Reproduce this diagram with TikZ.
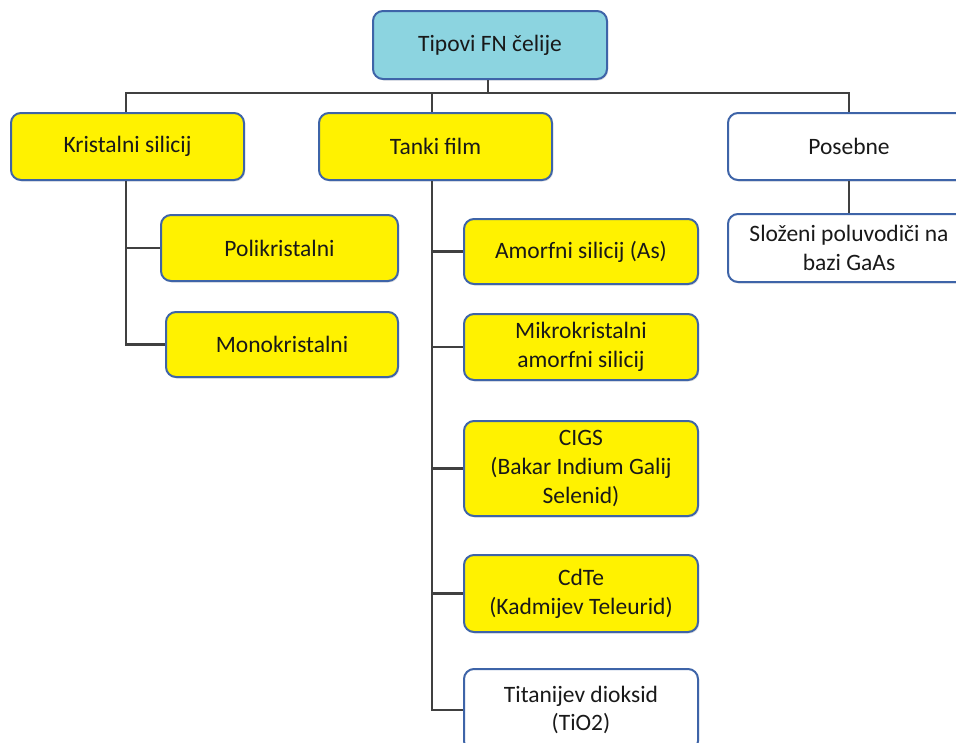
\documentclass[tikz,border=0pt]{standalone}
\usepackage{fontspec}
\setmainfont{Carlito}
\usetikzlibrary{shadows}
\definecolor{boxblue}{RGB}{62,100,168}
\definecolor{boxyellow}{RGB}{255,242,0}
\definecolor{boxcyan}{RGB}{140,212,224}
\definecolor{linegray}{RGB}{64,64,64}
\definecolor{txt}{RGB}{25,25,25}
\tikzset{
  box/.style={draw=boxblue, line width=2pt, rounded corners=10pt, align=center,
    inner sep=0pt, text=txt,
    font=\fontsize{23.5}{28.7}\selectfont,
    drop shadow={shadow xshift=1.2pt, shadow yshift=-1.5pt, opacity=0.22}},
  ybox/.style={box, fill=boxyellow},
  wbox/.style={box, fill=white},
  cbox/.style={box, fill=boxcyan},
  conn/.style={draw=linegray, line width=2.2pt}
}
\begin{document}
\begin{tikzpicture}[x=1pt, y=-1pt]
\useasboundingbox (0,0) rectangle (956,742);
\clip (0,0) rectangle (956,742);
\fill[white] (0,0) rectangle (956,742);
% nodes
\node[cbox, minimum width=234pt, minimum height=68pt] (top) at (490,45) {Tipovi FN čelije};
\node[ybox, minimum width=233pt, minimum height=67pt] (kri) at (127.5,146.5) {Kristalni silicij};
\node[ybox, minimum width=233pt, minimum height=67pt] (tan) at (435.5,146.5) {Tanki film};
\node[wbox, minimum width=242pt, minimum height=67pt] (pos) at (849,146.5) {Posebne};
\node[ybox, minimum width=237pt, minimum height=66pt] (poli) at (279.5,248) {Polikristalni};
\node[ybox, minimum width=232pt, minimum height=65pt] (mono) at (282,344.5) {Monokristalni};
\node[ybox, minimum width=234pt, minimum height=65pt] (amo) at (581,251.5) {Amorfni silicij (As)};
\node[ybox, minimum width=234pt, minimum height=66pt] (mik) at (581,347) {Mikrokristalni\\amorfni silicij};
\node[ybox, minimum width=234pt, minimum height=95pt] (cigs) at (581,468.5) {CIGS\\(Bakar Indium Galij\\Selenid)};
\node[ybox, minimum width=234pt, minimum height=77pt] (cdte) at (581,593.5) {CdTe\\(Kadmijev Teleurid)};
\node[wbox, minimum width=234pt, minimum height=82pt] (tio) at (581,710) {Titanijev dioksid\\(TiO2)};
\node[wbox, minimum width=242pt, minimum height=68pt] (slo) at (849,248) {Složeni poluvodiči na\\bazi GaAs};
% connectors
\coordinate (bus) at (488,93);
\coordinate (kx) at (126,0);
\coordinate (tx) at (432,0);
\draw[conn] (top.south -| bus) -- (bus);
\draw[conn] (kri.north -| kx) |- (bus) -| (pos.north);
\draw[conn] (tan.north -| tx) -- (bus -| tx);
\draw[conn] (kri.south -| kx) |- (poli.west);
\draw[conn] (kri.south -| kx) |- (mono.west);
\draw[conn] (tan.south -| tx) |- (amo.west);
\draw[conn] (tan.south -| tx) |- (mik.west);
\draw[conn] (tan.south -| tx) |- (cigs.west);
\draw[conn] (tan.south -| tx) |- (cdte.west);
\draw[conn] (tan.south -| tx) |- (tio.west);
\draw[conn] (pos.south) -- (slo.north);
\end{tikzpicture}
\end{document}
